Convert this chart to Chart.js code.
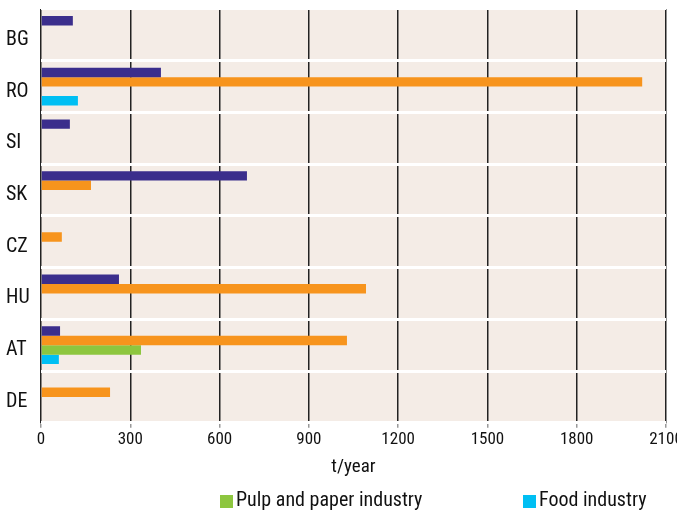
<!DOCTYPE html>
<html>
<head>
<meta charset="utf-8">
<script src="https://cdn.jsdelivr.net/npm/chart.js@4/dist/chart.umd.min.js"></script>
<style>
  html, body { margin: 0; padding: 0; background: #fff; }
  #wrap { width: 677px; height: 513px; }
</style>
</head>
<body>
<div id="wrap"><canvas id="chart"></canvas></div>
<script>
// countries, top to bottom
const countries = ["BG", "RO", "SI", "SK", "CZ", "HU", "AT", "DE"];
// t/year per sector (null = no bar)
const sectorA = [107, 403, 97, 692, null, 262, 64, null];
const sectorB = [null, 2020, null, 168, 70, 1092, 1028, 232];
const pulpPaper = [null, null, null, null, null, null, 336, null];
const food = [null, 124, null, null, null, null, 60, null];
const xTicks = [0, 300, 600, 900, 1200, 1500, 1800, 2100];

const FONT = "'Roboto Condensed', 'Roboto', sans-serif";

// beige plot background
const plotBg = {
  id: "plotBg",
  beforeDraw(chart) {
    const a = chart.chartArea, ctx = chart.ctx;
    ctx.save();
    ctx.fillStyle = "#f4ece6";
    ctx.fillRect(a.left, a.top, a.right - a.left, a.bottom - a.top);
    ctx.restore();
  }
};

// legend below the axis title, only the last two series are listed
const bottomLegend = {
  id: "bottomLegend",
  afterDraw(chart, args, opts) {
    const ctx = chart.ctx;
    ctx.save();
    ctx.font = "20px " + FONT;
    ctx.textBaseline = "middle";
    opts.items.forEach(function(it) {
      const ds = chart.data.datasets[it.index];
      ctx.fillStyle = ds.backgroundColor;
      ctx.fillRect(it.x, opts.y - 6, 13, 13);
      ctx.fillStyle = "#111";
      ctx.fillText(ds.label, it.x + 16, opts.y);
    });
    ctx.restore();
  }
};

const ctx = document.getElementById("chart").getContext("2d");
const chart = new Chart(ctx, {
  type: "bar",
  data: {
    labels: countries,
    datasets: [
      { label: "Sector A", data: sectorA, backgroundColor: "#3b2e8c" },
      { label: "Sector B", data: sectorB, backgroundColor: "#f7941d" },
      { label: "Pulp and paper industry", data: pulpPaper, backgroundColor: "#8dc63f" },
      { label: "Food industry", data: food, backgroundColor: "#00bff3" }
    ]
  },
  options: {
    indexAxis: "y",
    responsive: true,
    maintainAspectRatio: false,
    animation: false,
    layout: { padding: { left: 6, right: 11, top: 9, bottom: 34 } },
    datasets: {
      bar: { categoryPercentage: 0.73, barPercentage: 1.0 }
    },
    scales: {
      x: {
        min: 0,
        max: 2100,
        afterBuildTicks: function(axis) {
          axis.ticks = xTicks.map(function(v) { return { value: v }; });
        },
        afterFit: function(scale) {
          scale.paddingRight = 0;
          scale.paddingLeft = 0;
        },
        grid: {
          color: "#222",
          lineWidth: 1.5,
          drawTicks: true,
          tickLength: 5,
          tickColor: "#999"
        },
        border: { display: false },
        ticks: {
          color: "#111",
          font: { family: FONT, size: 17 },
          padding: 2,
          maxRotation: 0,
          callback: function(v) { return String(v); }
        },
        title: {
          display: true,
          text: "t/year",
          color: "#111",
          font: { family: FONT, size: 19 },
          padding: { top: 4, bottom: 0 }
        }
      },
      y: {
        afterFit: function(scale) {
          scale.width = 35;
          scale.paddingTop = 0;
          scale.paddingBottom = 0;
        },
        grid: {
          color: "#ffffff",
          lineWidth: 3,
          offset: true,
          drawTicks: false
        },
        border: { display: false },
        ticks: {
          color: "#111",
          font: { family: FONT, size: 20 },
          crossAlign: "far",
          padding: 4,
          labelOffset: 5
        }
      }
    },
    plugins: {
      legend: { display: false },
      tooltip: { enabled: false },
      bottomLegend: {
        y: 501,
        items: [
          { index: 2, x: 220 },
          { index: 3, x: 523 }
        ]
      }
    }
  },
  plugins: [plotBg, bottomLegend]
});
</script>
</body>
</html>
